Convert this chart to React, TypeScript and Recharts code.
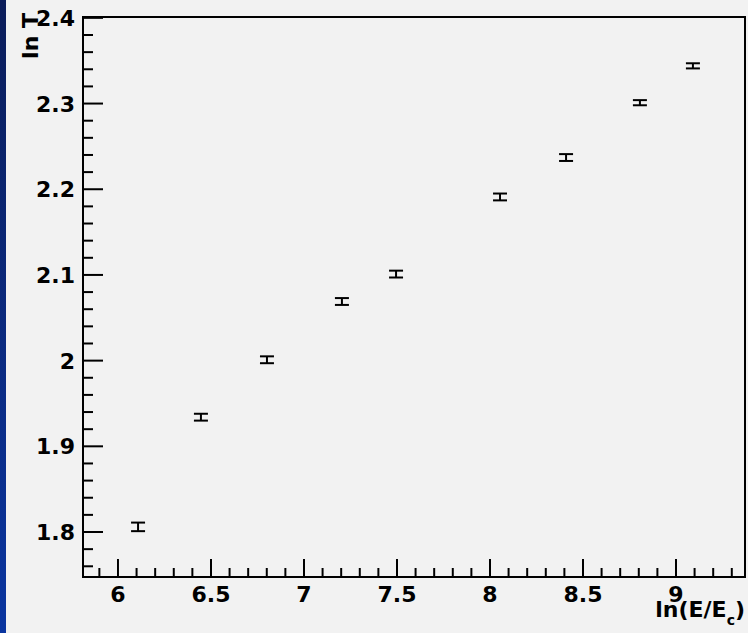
import React from 'react';
import {
  ScatterChart,
  Scatter,
  XAxis,
  YAxis,
  ErrorBar,
  ReferenceArea,
  Label,
} from 'recharts';

// ln(E/Ec) vs ln T
const lnE = [6.108, 6.446, 6.801, 7.204, 7.495, 8.054, 8.409, 8.806, 9.091];
const lnT = [1.806, 1.934, 2.001, 2.069, 2.101, 2.191, 2.237, 2.301, 2.344];
const lnTErr = [0.005, 0.004, 0.004, 0.004, 0.004, 0.004, 0.004, 0.003, 0.003];

const X_DOMAIN = [5.812, 9.371];
const Y_DOMAIN = [1.7475, 2.401];

const X_MAJOR = [6, 6.5, 7, 7.5, 8, 8.5, 9];
const X_LABELS = ['6', '6.5', '7', '7.5', '8', '8.5', '9'];
const Y_MAJOR = [1.8, 1.9, 2, 2.1, 2.2, 2.3, 2.4];
const Y_LABELS = ['1.8', '1.9', '2', '2.1', '2.2', '2.3', '2.4'];

// minor tick grids (axis decoration only)
const steps = (from: number, to: number, step: number) => {
  const out: number[] = [];
  for (let v = from; v <= to + 1e-9; v += step) out.push(Math.round(v * 1000) / 1000);
  return out;
};
const X_TICKS = steps(5.9, 9.3, 0.1);
const Y_TICKS = steps(1.76, 2.4, 0.02);

const data = lnE.map((x, i) => ({ x, y: lnT[i], err: lnTErr[i] }));

const FONT = '"DejaVu Sans", sans-serif';

const majorIndex = (list: number[], v: number) => list.findIndex((m) => Math.abs(m - v) < 1e-6);

function XTick(props: any) {
  const { x, y, payload } = props;
  const idx = majorIndex(X_MAJOR, payload.value);
  const major = idx >= 0;
  return (
    <g>
      <line x1={x} x2={x} y1={y} y2={y - (major ? 18 : 9)} stroke="#000" strokeWidth={2} />
      {major && (
        <text x={x} y={y + 25} textAnchor="middle" fontFamily={FONT} fontWeight="bold" fontSize={22} fill="#000">
          {X_LABELS[idx]}
        </text>
      )}
    </g>
  );
}

function YTick(props: any) {
  const { x, y, payload } = props;
  const idx = majorIndex(Y_MAJOR, payload.value);
  const major = idx >= 0;
  return (
    <g>
      <line x1={x} x2={x + (major ? 20 : 10)} y1={y} y2={y} stroke="#000" strokeWidth={2} />
      {major && (
        <text x={x - 8} y={y + 8} textAnchor="end" fontFamily={FONT} fontWeight="bold" fontSize={22} fill="#000">
          {Y_LABELS[idx]}
        </text>
      )}
    </g>
  );
}

const noMarker = () => <g />;

export default function App() {
  return (
    <div style={{ position: 'absolute', left: 0, top: 0, width: 748, height: 633, background: '#f2f2f2', overflow: 'hidden' }}>
      <div
        style={{
          position: 'absolute',
          left: 0,
          top: 0,
          width: 6,
          height: 633,
          background: 'linear-gradient(#0b1d5a, #0a35a0)',
        }}
      />
      <ScatterChart width={748} height={633} margin={{ top: 17, right: 3, bottom: 0, left: 0 }}>
        <XAxis
          type="number"
          dataKey="x"
          domain={X_DOMAIN}
          allowDataOverflow
          ticks={X_TICKS}
          interval={0}
          tickSize={0}
          tickMargin={0}
          tickLine={false}
          tick={<XTick />}
          axisLine={{ stroke: '#000', strokeWidth: 2 }}
          height={56}
        >
          <Label
            content={({ viewBox }: any) => (
              <text
                x={viewBox.x + viewBox.width}
                y={617}
                textAnchor="end"
                fontFamily={FONT}
                fontWeight="bold"
                fontSize={22}
                fill="#000"
              >
                <tspan>ln(E/E</tspan>
                <tspan dy={8} fontSize={14}>c</tspan>
                <tspan dy={-8}>)</tspan>
              </text>
            )}
          />
        </XAxis>
        <YAxis
          type="number"
          dataKey="y"
          domain={Y_DOMAIN}
          allowDataOverflow
          ticks={Y_TICKS}
          interval={0}
          tickSize={0}
          tickMargin={0}
          tickLine={false}
          tick={<YTick />}
          axisLine={{ stroke: '#000', strokeWidth: 2 }}
          width={83}
        >
          <Label
            content={() => (
              <text
                transform="translate(38, 13) rotate(-90)"
                textAnchor="end"
                fontFamily={FONT}
                fontWeight="bold"
                fontSize={22}
                fill="#000"
              >
                ln T
              </text>
            )}
          />
        </YAxis>
        <ReferenceArea
          x1={X_DOMAIN[0]}
          x2={X_DOMAIN[1]}
          y1={Y_DOMAIN[0]}
          y2={Y_DOMAIN[1]}
          fill="none"
          stroke="#000"
          strokeWidth={2}
        />
        <Scatter data={data} shape={noMarker} isAnimationActive={false}>
          <ErrorBar dataKey="err" direction="y" width={7} stroke="#000" strokeWidth={2} isAnimationActive={false} />
        </Scatter>
      </ScatterChart>
    </div>
  );
}
